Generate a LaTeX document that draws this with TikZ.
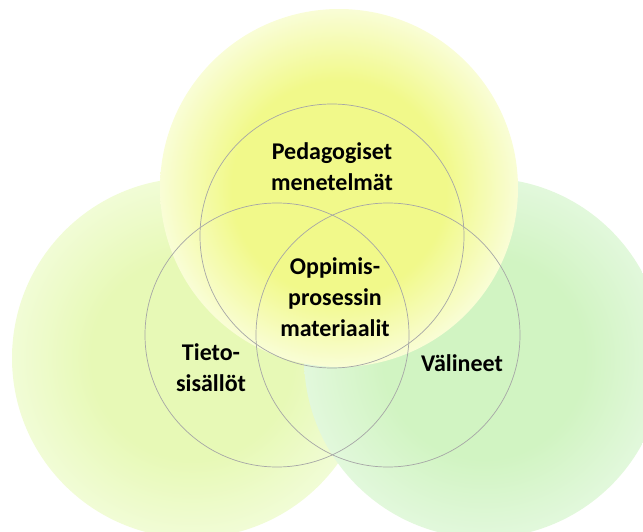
\documentclass[tikz,border=0pt]{standalone}
\usepackage{fontspec}
\setmainfont{Carlito}
\definecolor{topin}{HTML}{F1F98A}
\definecolor{topout}{HTML}{F9FDD6}
\definecolor{leftin}{HTML}{E7F9B6}
\definecolor{leftout}{HTML}{F1FCD6}
\definecolor{rightin}{HTML}{D1F4C2}
\definecolor{rightout}{HTML}{E2F8DC}
% flat core, fading only towards the rim
\pgfdeclareradialshading{topglow}{\pgfpoint{0bp}{0bp}}{color(0bp)=(topin); color(15bp)=(topin); color(25bp)=(topout); color(50bp)=(topout)}
\pgfdeclareradialshading{leftglow}{\pgfpoint{0bp}{0bp}}{color(0bp)=(leftin); color(14bp)=(leftin); color(25bp)=(leftout); color(50bp)=(leftout)}
\pgfdeclareradialshading{rightglow}{\pgfpoint{0bp}{0bp}}{color(0bp)=(rightin); color(14bp)=(rightin); color(25bp)=(rightout); color(50bp)=(rightout)}
\begin{document}
\begin{tikzpicture}
  [x=1pt,y=-1pt,
   every node/.style={align=center,font=\fontsize{24}{31}\selectfont\bfseries},
   ring/.style={draw=black!35,line width=0.7pt}]
\useasboundingbox (0,0) rectangle (643,532);
\clip (0,0) rectangle (643,532);
% soft background discs
\shade[shading=leftglow] (192,358) circle (180pt);
\shade[shading=rightglow] (484,358) circle (180pt);
\shade[shading=topglow] (339,188) circle (179pt);
% thin rings
\foreach \c in {(332,236),(277,335),(388,335)}
  \draw[ring] \c circle (132pt);
\node (ped) at (332,167) {Pedagogiset\\menetelmät};
  \node (opp) at (335,297) {Oppimis-\\prosessin\\materiaalit};
  \node (tieto) at (211,368) {Tieto-\\sisällöt};
  \node (vali) at (462,363) {Välineet};
\end{tikzpicture}
\end{document}
